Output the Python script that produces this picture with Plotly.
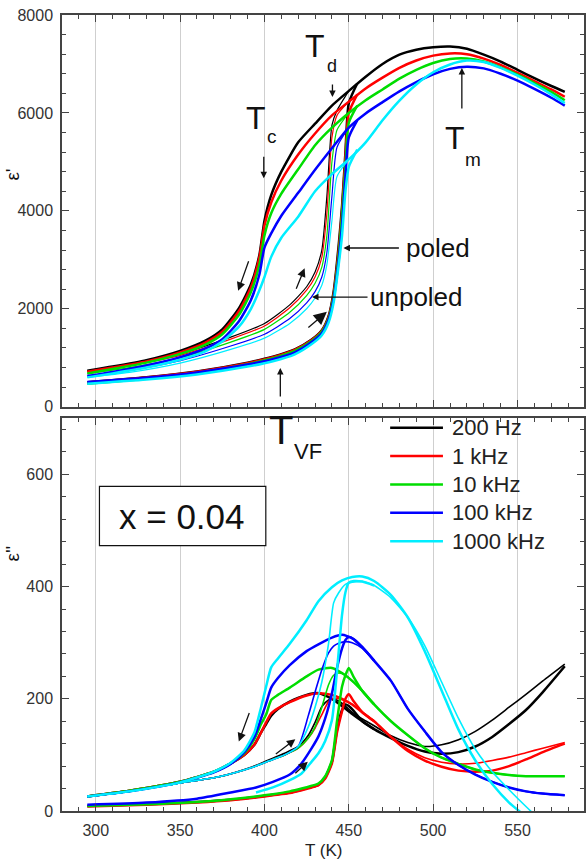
import plotly.graph_objects as go

# ---------------- data ----------------
FREQ_LABELS = ["200 Hz", "1 kHz", "10 kHz", "100 kHz", "1000 kHz"]

# Top panel: real part eps'
T1_cool = [295, 310, 330, 350, 365, 375, 385, 392, 397, 400, 404, 410, 420, 430, 440, 450, 460, 470, 480, 490, 500, 510, 520, 530, 540, 550, 560, 570, 578]
eps1_cool_200Hz = [735, 820, 950, 1140, 1350, 1580, 2020, 2500, 3100, 3800, 4320, 4800, 5400, 5780, 6150, 6450, 6740, 7000, 7190, 7290, 7340, 7355, 7310, 7190, 7050, 6880, 6710, 6550, 6430]
eps1_cool_1kHz = [715, 800, 925, 1110, 1310, 1530, 1960, 2440, 3050, 3700, 4170, 4620, 5150, 5580, 5950, 6230, 6500, 6720, 6920, 7070, 7170, 7215, 7200, 7110, 6980, 6820, 6650, 6480, 6330]
eps1_cool_10kHz = [680, 770, 900, 1080, 1270, 1480, 1880, 2340, 2900, 3500, 3950, 4350, 4850, 5340, 5700, 6000, 6260, 6480, 6700, 6880, 7020, 7100, 7110, 7050, 6930, 6780, 6610, 6430, 6260]
eps1_cool_100kHz = [626, 710, 840, 1010, 1190, 1380, 1750, 2180, 2700, 3250, 3540, 3900, 4370, 4840, 5280, 5700, 5990, 6220, 6440, 6630, 6790, 6900, 6945, 6910, 6800, 6660, 6490, 6310, 6150]
eps1_cool_1000kHz = [599, 680, 800, 960, 1130, 1330, 1640, 2000, 2380, 2650, 3060, 3450, 3880, 4400, 4750, 5050, 5400, 5850, 6250, 6580, 6830, 6990, 7070, 7040, 6920, 6760, 6580, 6380, 6200]

T1_unpoled = [295, 320, 350, 380, 400, 415, 425, 430, 434, 437, 440, 443, 450]
eps1_unp_200Hz = [735, 860, 1080, 1420, 1700, 2080, 2450, 2750, 3200, 4300, 5750, 6050, 6450]
eps1_unp_1kHz = [715, 840, 1050, 1380, 1650, 2020, 2380, 2650, 3050, 3950, 5500, 5950, 6230]
eps1_unp_10kHz = [680, 800, 1000, 1320, 1580, 1930, 2270, 2520, 2850, 3500, 5000, 5650, 6000]
eps1_unp_100kHz = [626, 740, 940, 1240, 1480, 1800, 2120, 2350, 2650, 3150, 4300, 5300, 5700]
eps1_unp_1000kHz = [599, 700, 890, 1170, 1400, 1700, 2000, 2220, 2480, 2900, 3800, 4700, 5050]

T1_poled = [295, 330, 360, 390, 405, 418, 428, 434, 438, 441, 444, 446, 448, 450, 455]
eps1_pol_200Hz = [500, 600, 720, 900, 1020, 1170, 1370, 1560, 1850, 2350, 3300, 4100, 5200, 6200, 6600]
eps1_pol_1kHz = [495, 595, 715, 890, 1010, 1160, 1360, 1550, 1830, 2300, 3200, 4000, 5100, 6000, 6380]
eps1_pol_10kHz = [470, 570, 690, 870, 990, 1140, 1340, 1530, 1800, 2250, 3100, 3900, 4900, 5800, 6150]
eps1_pol_100kHz = [505, 590, 700, 860, 970, 1110, 1320, 1500, 1770, 2200, 3000, 3700, 4700, 5500, 5850]
eps1_pol_1000kHz = [470, 555, 660, 820, 930, 1070, 1280, 1460, 1720, 2130, 2900, 3500, 4400, 4900, 5250]

# Bottom panel: imaginary part eps''
T2_cool = [295, 320, 350, 370, 380, 388, 394, 398, 401, 404, 408, 415, 425, 432, 440, 446, 452, 458, 465, 475, 485, 495, 505, 515, 525, 535, 545, 555, 565, 578]
eps2_cool_200Hz = [26, 36, 52, 70, 85, 100, 118, 140, 155, 170, 182, 195, 207, 210, 200, 187, 173, 160, 146, 130, 116, 106, 102, 105, 115, 132, 155, 180, 212, 258]
eps2_cool_1kHz = [26, 36, 52, 70, 85, 100, 118, 140, 158, 174, 183, 194, 206, 210, 207, 200, 190, 176, 160, 132, 107, 90, 79, 72, 70, 72, 80, 92, 105, 120]
eps2_cool_10kHz = [26, 36, 52, 70, 85, 103, 128, 155, 172, 198, 207, 220, 240, 252, 255, 246, 232, 214, 190, 160, 135, 112, 95, 84, 74, 68, 64, 62, 62, 62]
eps2_cool_100kHz = [26, 35, 51, 69, 84, 105, 132, 165, 192, 220, 237, 260, 285, 297, 309, 314, 308, 292, 268, 232, 182, 142, 105, 82, 65, 52, 42, 35, 31, 28]
eps2_cool_1000kHz = [26, 35, 51, 70, 86, 108, 140, 185, 222, 256, 272, 298, 340, 374, 399, 411, 417, 418, 410, 385, 345, 285, 215, 145, 90, 48, 15, -10, -35, -65]

T2_unpoled = [295, 320, 350, 373, 393, 405, 412, 420, 426, 430, 434, 438, 441, 444, 448, 452, 458, 465, 475, 485, 495, 505, 515, 525, 535, 545, 555, 565, 578]
eps2_unp_200Hz = [26, 35, 50, 61, 79, 94, 103, 115, 135, 158, 186, 198, 200, 196, 187, 176, 164, 152, 134, 122, 115, 118, 127, 142, 162, 185, 208, 232, 262]
eps2_unp_1kHz = [26, 35, 50, 61, 78, 92, 100, 112, 130, 148, 172, 195, 201, 200, 196, 190, 176, 160, 132, 110, 95, 87, 84, 85, 90, 96, 104, 112, 122]
eps2_unp_10kHz = [26, 35, 50, 61, 78, 92, 100, 112, 130, 150, 185, 225, 242, 246, 242, 232, 214, 190, 160, 135, 112, 95, 84, 74, 68, 64, 62, 62, 62]
eps2_unp_100kHz = [26, 35, 50, 61, 78, 92, 100, 115, 170, 212, 252, 282, 294, 299, 302, 300, 290, 268, 232, 182, 142, 105, 82, 65, 52, 42, 35, 31, 28]
eps2_unp_1000kHz = [26, 35, 50, 61, 78, 92, 100, 115, 150, 185, 230, 299, 371, 389, 404, 408, 409, 402, 380, 345, 295, 230, 165, 110, 70, 38, 8, -20, -50]

T2_poled = [295, 330, 360, 380, 395, 405, 415, 422, 428, 432, 436, 440, 443, 446, 448, 450, 453, 458, 465]
eps2_pol_200Hz = [9, 12, 16, 20, 25, 29, 33, 38, 43, 47, 60, 88, 145, 180, 190, 187, 178, 160, 146]
eps2_pol_1kHz = [8, 11, 15, 19, 24, 28, 32, 37, 42, 46, 58, 85, 140, 178, 200, 208, 195, 176, 160]
eps2_pol_10kHz = [9, 12, 16, 21, 26, 30, 35, 40, 45, 49, 62, 91, 160, 222, 242, 255, 238, 214, 190]
eps2_pol_100kHz = [11, 15, 22, 33, 42, 52, 65, 85, 112, 133, 165, 210, 255, 290, 305, 310, 306, 292, 268]
eps2_pol_1000kHz = [None, None, None, None, 33, 42, 55, 67, 88, 103, 125, 162, 250, 350, 390, 407, 410, 409, 402]

# ---------------- styling ----------------
COLORS = ["#000000", "#ff0000", "#00dd00", "#0000ff", "#00eeff"]
FONT = "Liberation Sans, Arial, sans-serif"
THICK, THIN = 2.5, 1.2

top_cool = [eps1_cool_200Hz, eps1_cool_1kHz, eps1_cool_10kHz, eps1_cool_100kHz, eps1_cool_1000kHz]
top_unp = [eps1_unp_200Hz, eps1_unp_1kHz, eps1_unp_10kHz, eps1_unp_100kHz, eps1_unp_1000kHz]
top_pol = [eps1_pol_200Hz, eps1_pol_1kHz, eps1_pol_10kHz, eps1_pol_100kHz, eps1_pol_1000kHz]
bot_cool = [eps2_cool_200Hz, eps2_cool_1kHz, eps2_cool_10kHz, eps2_cool_100kHz, eps2_cool_1000kHz]
bot_unp = [eps2_unp_200Hz, eps2_unp_1kHz, eps2_unp_10kHz, eps2_unp_100kHz, eps2_unp_1000kHz]
bot_pol = [eps2_pol_200Hz, eps2_pol_1kHz, eps2_pol_10kHz, eps2_pol_100kHz, eps2_pol_1000kHz]

fig = go.Figure()


def add(x, y, color, width, xa, ya, name):
    fig.add_trace(go.Scatter(
        x=x, y=y, mode="lines", name=name,
        line=dict(color=color, width=width, shape="spline", smoothing=0.6),
        xaxis=xa, yaxis=ya, showlegend=False, hoverinfo="skip", connectgaps=False))


for i in range(5):
    add(T1_cool, top_cool[i], COLORS[i], THICK, "x", "y", FREQ_LABELS[i])
    add(T1_unpoled, top_unp[i], COLORS[i], THIN, "x", "y", FREQ_LABELS[i])
    add(T1_poled, top_pol[i], COLORS[i], THICK, "x", "y", FREQ_LABELS[i])
    add(T2_cool, bot_cool[i], COLORS[i], THICK, "x2", "y2", FREQ_LABELS[i])
    add(T2_unpoled, bot_unp[i], COLORS[i], 1.6, "x2", "y2", FREQ_LABELS[i])
    add(T2_poled, bot_pol[i], COLORS[i], THICK, "x2", "y2", FREQ_LABELS[i])

XR = [280, 589.4]
axis_common = dict(
    showline=True, linecolor="#444", linewidth=1.5, mirror="ticks",
    ticks="inside", ticklen=7, tickwidth=1.2, tickcolor="#444",
    tickfont=dict(family=FONT, size=16, color="#333"), zeroline=False,
)
xgrid = dict(showgrid=True, gridcolor="#cfcfcf", gridwidth=1,
             minor=dict(ticks="inside", ticklen=4, dtick=10, tickcolor="#444", showgrid=False))

fig.update_layout(
    width=586, height=865,
    margin=dict(l=62, r=0, t=15, b=54),
    paper_bgcolor="white", plot_bgcolor="white",
    showlegend=False,
    xaxis=dict(domain=[0, 1], anchor="y", range=XR, tick0=300, dtick=50,
               showticklabels=False, **xgrid, **axis_common),
    yaxis=dict(domain=[0.5079, 1], anchor="x", range=[0, 8000], dtick=2000,
               showgrid=False, ticklabelstandoff=4,
               minor=dict(ticks="inside", ticklen=4, dtick=400, tickcolor="#444"),
               **axis_common),
    xaxis2=dict(domain=[0, 1], anchor="y2", range=XR, tick0=300, dtick=50,
                ticklabelstandoff=4, **xgrid, **axis_common),
    yaxis2=dict(domain=[0, 0.4933], anchor="x2", range=[0, 700], dtick=200,
                showgrid=False, ticklabelstandoff=4,
                minor=dict(ticks="inside", ticklen=4, dtick=40, tickcolor="#444"),
                **axis_common),
)

ann = []


def text(x, y, s, size, xref="x", yref="y", xanchor="center", yanchor="middle", color="#111"):
    ann.append(dict(x=x, y=y, xref=xref, yref=yref, text=s, showarrow=False,
                    xanchor=xanchor, yanchor=yanchor,
                    font=dict(family=FONT, size=size, color=color)))


def arrow(x, y, ax, ay, xref="x", yref="y", head=2, size=1.0, width=1.3):
    ann.append(dict(x=x, y=y, xref=xref, yref=yref, ax=ax, ay=ay, text="",
                    showarrow=True, arrowhead=head, arrowsize=size, arrowwidth=width,
                    arrowcolor="#111"))


# T_c
text(394.9, 5903, "T", 32)
text(404.6, 5515, "c", 19)
arrow(399.6, 4667, 0, -23)
# T_d
text(430, 7357, "T", 32)
text(440.3, 6958, "d", 18)
arrow(440.3, 6326, 0, -14)
# T_m
text(512.8, 5482, "T", 32)
text(523.5, 5059, "m", 19)
arrow(517, 6918, 0, 42)
# poled / unpoled
text(482.5, 3241, "poled", 26, xanchor="left")
arrow(446.8, 3241, 57, 0)
text(461.5, 2240, "unpoled", 26, xanchor="left")
arrow(428.2, 2240, 57, 0)
# T_VF
arrow(409.4, 790, 0, 30)
text(409.9, 680, "T", 40, xref="x2", yref="y2")
text(425.6, 641.6, "VF", 22, xref="x2", yref="y2")
# direction arrows, top
arrow(384.4, 2369, 11, -31, head=2, size=1.3)
arrow(423.8, 2827, -9, 22, head=2, size=1.3)
arrow(437, 1940, -20, 17, head=2, size=2.0, width=1.3)
# direction arrows, bottom
arrow(384.8, 124, 11, -30, xref="x2", yref="y2", head=2, size=1.3)
arrow(418.3, 128, -21, 16, xref="x2", yref="y2", head=2, size=1.3)
arrow(425.7, 88, -14, 13, xref="x2", yref="y2", head=2, size=1.4)

# x = 0.04 box
fig.add_shape(type="rect", xref="x2", yref="y2", x0=302.2, x1=400.8, y0=473, y1=578.6,
              line=dict(color="#111", width=1.2), fillcolor="white")
text(351.4, 525.5, "x = 0.04", 35, xref="x2", yref="y2")

# legend (drawn manually)
leg_y = [683.4, 632.7, 582.1, 531.6, 481]
for i in range(5):
    fig.add_shape(type="line", xref="x2", yref="y2", x0=474.5, x1=505.8, y0=leg_y[i], y1=leg_y[i],
                  line=dict(color=COLORS[i], width=2.5))
    text(510, leg_y[i], FREQ_LABELS[i], 22, xref="x2", yref="y2", xanchor="left", color="#222")

# axis titles
text(-0.095, 0.80, "ε'", 19, xref="paper", yref="paper")
ann[-1]["textangle"] = -90
text(-0.095, 0.324, "ε''", 19, xref="paper", yref="paper")
ann[-1]["textangle"] = -90
text(0.5, -0.05, "T (K)", 17, xref="paper", yref="paper", color="#222")

fig.update_layout(annotations=ann)
fig.write_html("out.html")
